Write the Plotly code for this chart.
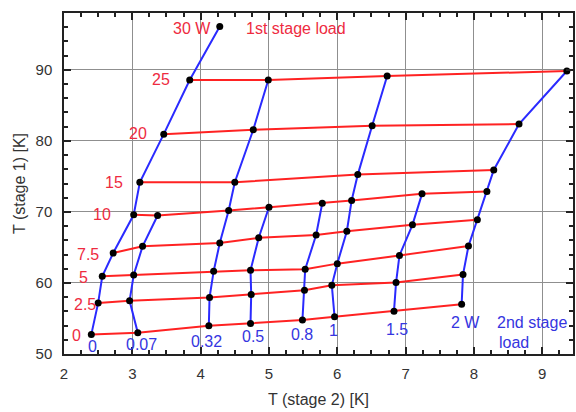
import plotly.graph_objects as go

# Heat loads applied to each cooler stage [W]
stage1_loads = [0, 2.5, 5, 7.5, 10, 15, 20, 25, 30]
stage2_loads = [0, 0.07, 0.32, 0.5, 0.8, 1, 1.5, 2]

# Stage 2 temperature [K]; rows = stage 1 load, columns = stage 2 load
t_stage2 = [
    [2.40, 3.08, 4.12, 4.73, 5.49, 5.96, 6.83, 7.82],
    [2.50, 2.96, 4.13, 4.74, 5.52, 5.92, 6.86, 7.84],
    [2.56, 3.02, 4.19, 4.73, 5.53, 6.00, 6.91, 7.92],
    [2.72, 3.15, 4.28, 4.85, 5.69, 6.14, 7.10, 8.05],
    [3.02, 3.37, 4.41, 5.00, 5.78, 6.21, 7.24, 8.19],
    [3.11, None, 4.50, None, None, 6.30, None, 8.29],
    [3.46, None, 4.77, None, None, 6.51, None, 8.66],
    [3.84, None, 4.99, None, None, 6.73, None, 9.36],
    [4.28, None, None, None, None, None, None, None],
]

# Stage 1 temperature [K]; same layout
t_stage1 = [
    [52.76, 52.99, 53.97, 54.31, 54.77, 55.23, 56.03, 57.01],
    [57.19, 57.48, 57.95, 58.37, 58.98, 59.68, 60.06, 61.18],
    [60.94, 61.12, 61.64, 61.78, 61.92, 62.72, 63.88, 65.19],
    [64.21, 65.15, 65.61, 66.36, 66.76, 67.29, 68.18, 68.89],
    [69.59, 69.50, 70.20, 70.66, 71.22, 71.60, 72.54, 72.86],
    [74.17, None, 74.17, None, None, 75.25, None, 75.91],
    [80.95, None, 81.56, None, None, 82.12, None, 82.36],
    [88.57, None, 88.57, None, None, 89.13, None, 89.83],
    [96.10, None, None, None, None, None, None, None],
]

# Load labels: text, stage-2 temperature, stage-1 temperature
stage1_labels = ["0", "2.5", "5", "7.5", "10", "15", "20", "25", "30 W", "1st stage load"]
stage1_label_x = [2.19, 2.31, 2.28, 2.35, 2.56, 2.73, 3.09, 3.42, 3.88, 5.39]
stage1_label_y = [52.66, 57.0, 60.75, 64.0, 69.7, 74.17, 81.0, 88.57, 95.86, 95.86]

stage2_labels = ["0", "0.07", "0.32", "0.5", "0.8", "1", "1.5", "2 W", "2nd stage", "load"]
stage2_label_x = [2.41, 3.13, 4.09, 4.76, 5.48, 5.95, 6.88, 7.88, 8.85, 8.58]
stage2_label_y = [51.0, 51.35, 51.73, 52.43, 52.8, 53.37, 53.46, 54.39, 54.39, 51.58]

RED = "#ff2222"
BLUE = "#2a2aff"
RED_TXT = "#ee2b3f"
BLUE_TXT = "#3535e0"
FONT = "Liberation Sans, Arial"

fig = go.Figure()

# Constant stage-1 load lines (red)
for i, load in enumerate(stage1_loads):
    xs = [x for x in t_stage2[i] if x is not None]
    ys = [y for y in t_stage1[i] if y is not None]
    if len(xs) > 1:
        fig.add_trace(go.Scatter(x=xs, y=ys, mode="lines",
                                 line=dict(color=RED, width=2), hoverinfo="skip"))

# Constant stage-2 load lines (blue)
for j, load in enumerate(stage2_loads):
    xs = [row[j] for row in t_stage2 if row[j] is not None]
    ys = [row[j] for row in t_stage1 if row[j] is not None]
    fig.add_trace(go.Scatter(x=xs, y=ys, mode="lines",
                             line=dict(color=BLUE, width=2), hoverinfo="skip"))

# Measured operating points
px = [x for row in t_stage2 for x in row if x is not None]
py = [y for row in t_stage1 for y in row if y is not None]
fig.add_trace(go.Scatter(x=px, y=py, mode="markers",
                         marker=dict(color="black", size=7)))

for txt, x, y in zip(stage1_labels, stage1_label_x, stage1_label_y):
    fig.add_annotation(x=x, y=y, text=txt, showarrow=False,
                       font=dict(family=FONT, size=16, color=RED_TXT))
for txt, x, y in zip(stage2_labels, stage2_label_x, stage2_label_y):
    fig.add_annotation(x=x, y=y, text=txt, showarrow=False,
                       font=dict(family=FONT, size=16, color=BLUE_TXT))

axis_common = dict(
    showline=True, linecolor="#222", linewidth=1.5, mirror="allticks",
    ticks="inside", ticklen=7, tickwidth=1.5, tickcolor="#222",
    showgrid=True, gridcolor="#8f8f8f", gridwidth=1.3,
    zeroline=False,
    tickfont=dict(family=FONT, size=15, color="#333"),
    title_font=dict(family=FONT, size=16, color="#333"),
)

fig.update_xaxes(
    range=[2, 9.45], dtick=1, tick0=2,
    minor=dict(dtick=0.25, ticks="inside", ticklen=4, tickcolor="#222", showgrid=False),
    title_text="T (stage 2) [K]", title_standoff=13, ticklabelstandoff=5,
    **axis_common,
)
fig.update_yaxes(
    range=[50, 98], dtick=10, tick0=50,
    minor=dict(dtick=2, ticks="inside", ticklen=4, tickcolor="#222", showgrid=False),
    title_text="T (stage 1) [K]", title_standoff=6, ticklabelstandoff=7,
    **axis_common,
)

fig.update_layout(
    width=576, height=412,
    margin=dict(l=64, r=1, t=13, b=58),
    paper_bgcolor="white", plot_bgcolor="white",
    showlegend=False,
)

fig.write_html("out.html")
